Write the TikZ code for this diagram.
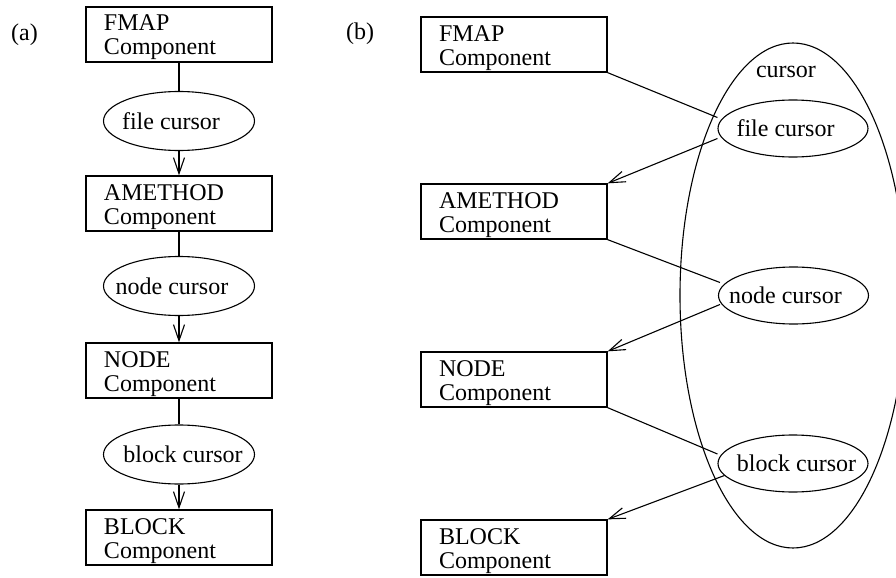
\documentclass[tikz,border=0pt]{standalone}
\usepackage{fontspec}
\setmainfont{Liberation Serif}
\usetikzlibrary{arrows.meta,shapes.geometric}
\begin{document}
\begin{tikzpicture}[x=0.5pt,y=-0.5pt,
  font=\fontsize{12}{12}\selectfont,
  comp/.style={draw, line width=0.65pt, rectangle, inner xsep=9pt, inner ysep=0pt,
    text width=75pt, align=left, text height=12pt, text depth=15.5pt},
  curs/.style={draw, line width=0.55pt, ellipse, inner sep=0pt,
    minimum width=75.5pt, minimum height=29.5pt},
  conn/.style={line width=0.55pt},
  arr/.style={line width=0.55pt, -{Straight Barb[length=8pt,width=5.5pt,line width=0.55pt]}}]
\useasboundingbox (0,0) rectangle (896,578);

% (a)
\node (la) at (24.5,35) {(a)};
\node[comp] (fA) at (179,34.5) {FMAP\\Component};
\node[comp] (aA) at (179,203.5) {AMETHOD\\Component};
\node[comp] (nA) at (179,370.5) {NODE\\Component};
\node[comp] (bA) at (179,537.5) {BLOCK\\Component};
\node[curs, label={[xshift=-4pt]center:file cursor}] (fcA) at (179,121) {};
\node[curs, label={[xshift=-3.5pt]center:node cursor}] (ncA) at (179,286) {};
\node[curs, label={[xshift=2pt]center:block cursor}] (bcA) at (179,454.5) {};
\draw[conn] (fA.south) -- (fcA.north);
\draw[arr] (fcA.south) -- (aA.north);
\draw[conn] (aA.south) -- (ncA.north);
\draw[arr] (ncA.south) -- (nA.north);
\draw[conn] (nA.south) -- (bcA.north);
\draw[arr] (bcA.south) -- (bA.north);

% (b)
\node (lb) at (360,34) {(b)};
\node[draw, line width=0.55pt, ellipse, inner sep=0pt, minimum width=113pt, minimum height=252.5pt] (cur) at (793,295.5) {};
\node (curl) at (786,72) {cursor};
\node[comp] (fB) at (514,44.5) {FMAP\\Component};
\node[comp] (aB) at (514,211.5) {AMETHOD\\Component};
\node[comp] (nB) at (514,379.5) {NODE\\Component};
\node[comp] (bB) at (514,547.5) {BLOCK\\Component};
\node[curs, minimum width=75pt, minimum height=28.5pt, label={[xshift=-3.75pt]center:file cursor}] (fcB) at (793,128.5) {};
\node[curs, minimum width=75pt, minimum height=28.5pt, label={[xshift=-4pt]center:node cursor}] (ncB) at (793.5,295.5) {};
\node[curs, minimum width=75pt, minimum height=28.5pt, label={[xshift=1.75pt]center:block cursor}] (bcB) at (793,463.5) {};
\draw[conn] (fB.south east) -- ([yshift=5.5pt]fcB.west);
\draw[arr] ([yshift=-5pt]fcB.west) -- (aB.north east);
\draw[conn] (aB.south east) -- ([xshift=1pt,yshift=6.5pt]ncB.west);
\draw[arr] ([xshift=1pt,yshift=-4.5pt]ncB.west) -- (nB.north east);
\draw[conn] (nB.south east) -- ([yshift=4.75pt]bcB.west);
\draw[arr] ([xshift=3.5pt,yshift=-6pt]bcB.west) -- (bB.north east);
\end{tikzpicture}
\end{document}
